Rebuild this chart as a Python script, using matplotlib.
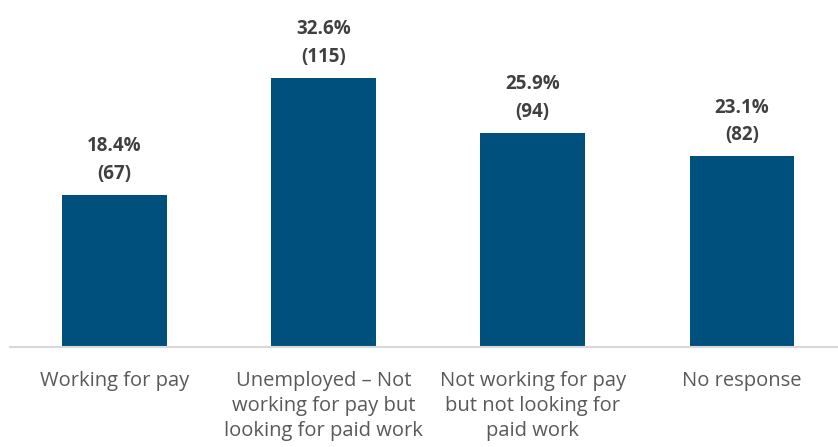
import matplotlib
matplotlib.use("Agg")
import matplotlib.pyplot as plt

categories = ["Working for pay",
              "Unemployed \u2013 Not\nworking for pay but\nlooking for paid work",
              "Not working for pay\nbut not looking for\npaid work",
              "No response"]
percents = [18.4, 32.6, 25.9, 23.1]
counts = [67, 115, 94, 82]

bar_color = "#00507E"
plt.rcParams["font.family"] = ["Open Sans", "DejaVu Sans"]

fig = plt.figure(figsize=(8.38, 4.47), dpi=100)
ax = fig.add_axes([10/838, 100/447, 828/838, 347/447])

x = range(len(categories))
bars = ax.bar(x, percents, width=0.5, color=bar_color, zorder=2)

for b, p, n in zip(bars, percents, counts):
    ax.annotate(f"{p}%\n({n})", (b.get_x() + b.get_width()/2, b.get_height()),
                xytext=(0, 8), textcoords="offset points", ha="center", va="bottom",
                fontsize=13.5, fontweight="bold", color="#404040", linespacing=1.5)

ax.set_xlim(-0.5, 3.46)
ax.set_ylim(0, 42)
ax.set_xticks(list(x))
ax.set_xticklabels(categories, fontsize=14.5, color="#595959", linespacing=1.36)
ax.tick_params(axis="x", length=0, pad=17)
ax.set_yticks([])
for s in ["top", "right", "left"]:
    ax.spines[s].set_visible(False)
ax.spines["bottom"].set_color("#D9D9D9")
ax.spines["bottom"].set_linewidth(1.5)

fig.savefig("out.png", dpi=100)
